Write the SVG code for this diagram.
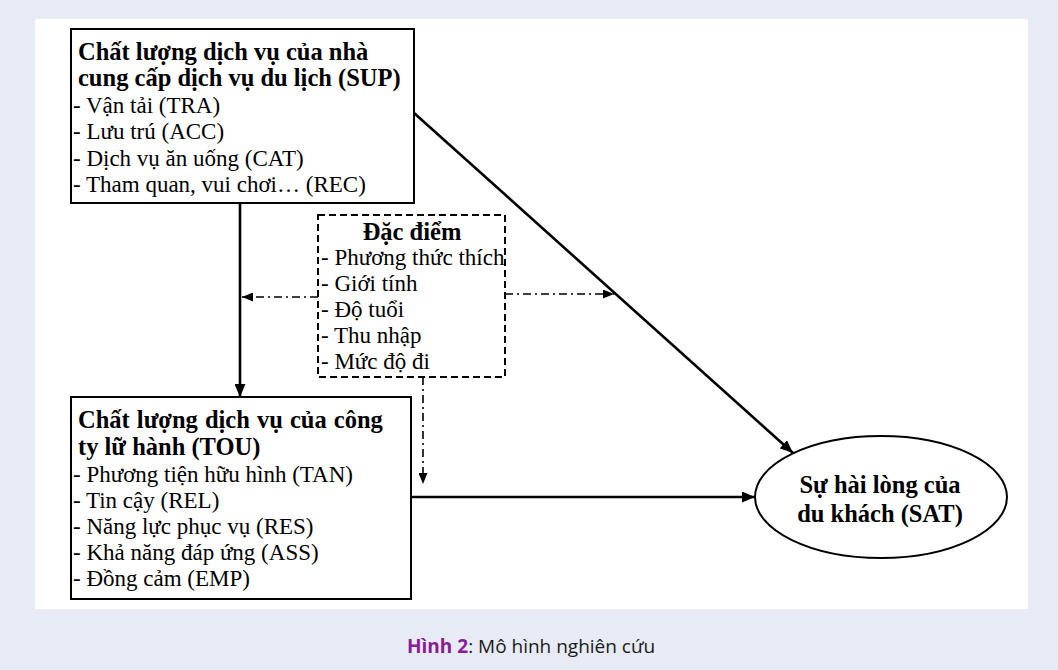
<svg xmlns="http://www.w3.org/2000/svg" width="1058" height="670" viewBox="0 0 1058 670">
<style>
.box{fill:#fff;stroke:#000;stroke-width:2}
.dbox{fill:#fff;stroke:#000;stroke-width:2;stroke-dasharray:7 4}
.t{font-family:"Liberation Serif","Times New Roman",serif;font-size:23px;fill:#000}
.b{font-weight:bold;font-size:24.5px}
.solid{stroke:#000;stroke-width:2.6;fill:none}
.dd{stroke:#000;stroke-width:1.6;fill:none;stroke-dasharray:8 4 2 4}
.cap{font-family:"Open Sans","Noto Sans",sans-serif;font-size:19px}
</style>
<defs>
<marker id="arr" markerUnits="userSpaceOnUse" markerWidth="13" markerHeight="11" refX="13" refY="5.5" orient="auto">
<path d="M0,0 L13,5.5 L0,11 z" fill="#000"/>
</marker>
<marker id="arrs" markerUnits="userSpaceOnUse" markerWidth="11" markerHeight="9" refX="11" refY="4.5" orient="auto">
<path d="M0,0 L11,4.5 L0,9 z" fill="#000"/>
</marker>
<clipPath id="cSup"><rect x="71" y="29" width="343" height="168"/></clipPath>
<clipPath id="cTou"><rect x="71" y="397" width="340" height="196"/></clipPath>
</defs>
<rect x="0" y="0" width="1058" height="670" fill="#e7ebf5"/>
<rect x="35" y="19" width="993" height="590" fill="#fff"/>

<g id="SUP">
<rect class="box" x="71" y="29" width="343" height="174"/>
<g clip-path="url(#cSup)">
<text class="t b" x="78" y="60">Chất lượng dịch vụ của nhà</text>
<text class="t b" x="78" y="86">cung cấp dịch vụ du lịch (SUP)</text>
<text class="t" x="73" y="113">- Vận tải (TRA)</text>
<text class="t" x="73" y="139">- Lưu trú (ACC)</text>
<text class="t" x="73" y="165.5">- Dịch vụ ăn uống (CAT)</text>
<text class="t" x="73" y="191.5">- Tham quan, vui chơi… (REC)</text>
</g>
</g>

<g id="DACDIEM">
<rect class="dbox" x="318" y="215" width="187" height="162"/>
<text class="t b" x="412" y="240" text-anchor="middle">Đặc điểm</text>
<text class="t" x="321" y="265">- Phương thức thích</text>
<text class="t" x="321" y="291">- Giới tính</text>
<text class="t" x="321" y="317">- Độ tuổi</text>
<text class="t" x="321" y="343">- Thu nhập</text>
<text class="t" x="321" y="369">- Mức độ đi</text>
</g>

<g id="TOU">
<rect class="box" x="71" y="397" width="340" height="202"/>
<g clip-path="url(#cTou)">
<text class="t b" x="78" y="428" word-spacing="1">Chất lượng dịch vụ của công</text>
<text class="t b" x="78" y="455">ty lữ hành (TOU)</text>
<text class="t" x="73" y="482">- Phương tiện hữu hình (TAN)</text>
<text class="t" x="73" y="508">- Tin cậy (REL)</text>
<text class="t" x="73" y="534">- Năng lực phục vụ (RES)</text>
<text class="t" x="73" y="560">- Khả năng đáp ứng (ASS)</text>
<text class="t" x="73" y="586">- Đồng cảm (EMP)</text>
</g>
</g>

<g id="SAT">
<ellipse cx="881" cy="497" rx="126" ry="61" fill="#fff" stroke="#000" stroke-width="2"/>
<text class="t b" x="880" y="493" text-anchor="middle" font-size="25">Sự hài lòng của</text>
<text class="t b" x="880" y="522" text-anchor="middle" font-size="25">du khách (SAT)</text>
</g>

<g id="connectors">
<line class="solid" x1="240" y1="203" x2="240" y2="397" marker-end="url(#arr)"/>
<line class="solid" x1="414" y1="113" x2="793" y2="453" marker-end="url(#arr)"/>
<line class="solid" x1="411" y1="497" x2="755" y2="497" marker-end="url(#arr)"/>
<line class="dd" x1="318" y1="297" x2="242" y2="297" marker-end="url(#arrs)"/>
<line class="dd" x1="505" y1="294" x2="614" y2="294" marker-end="url(#arrs)"/>
<line class="dd" x1="423" y1="377" x2="423" y2="484" marker-end="url(#arrs)"/>
</g>

<text class="cap" x="407" y="653"><tspan font-weight="bold" fill="#8b1a96">Hình 2</tspan><tspan fill="#1a1a1a">: Mô hình nghiên cứu</tspan></text>
</svg>
